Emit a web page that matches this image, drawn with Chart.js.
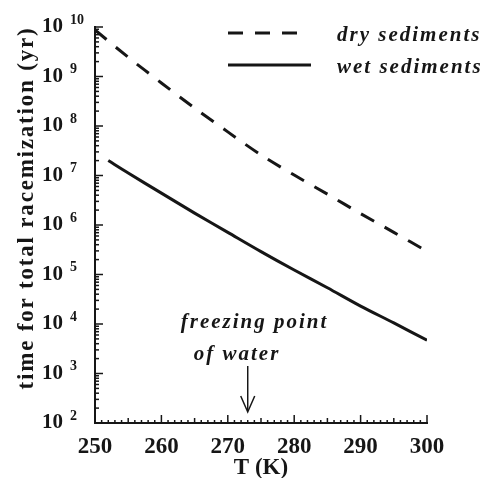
<!DOCTYPE html>
<html>
<head>
<meta charset="utf-8">
<script src="https://cdn.jsdelivr.net/npm/chart.js@4"></script>
<style>
  html, body { margin: 0; padding: 0; background: #fff; }
  canvas { display: block; }
</style>
</head>
<body>
<canvas id="raceChart" width="491" height="478"></canvas>
<script>
const tempDry = [250, 255, 260, 265, 270, 275, 280, 285, 290, 295, 300];
const dryYears = [8.7e9, 2.45e9, 7.4e8, 2.3e8, 7.6e7, 2.6e7, 1.02e7, 4.2e6, 1.7e6, 7.1e5, 2.95e5];
const tempWet = [252, 255, 260, 265, 270, 275, 280, 285, 290, 295, 300];
const wetYears = [2.0e7, 1.12e7, 4.4e6, 1.74e6, 7.1e5, 2.9e5, 1.23e5, 5.4e4, 2.3e4, 1.05e4, 4.7e3];
const seriesNames = ["dry sediments", "wet sediments"];
const xTicks = [250, 260, 270, 280, 290, 300];
const yPowers = [1e2, 1e3, 1e4, 1e5, 1e6, 1e7, 1e8, 1e9, 1e10];
const freezingT = 273;
const noteLines = ["freezing point", "of water"];

const ink = "#161616";
const serif = "'Liberation Serif', 'DejaVu Serif', serif";

function toPoints(xs, ys) {
  return xs.map((t, i) => ({ x: t, y: ys[i] }));
}

function line(ctx, x1, y1, x2, y2) {
  ctx.beginPath();
  ctx.moveTo(x1, y1);
  ctx.lineTo(x2, y2);
  ctx.stroke();
}

// inward tick marks, exponents, legend, note and y title
const decorations = {
  id: "decorations",
  afterDraw(chart) {
    const { ctx, chartArea, scales: { x, y } } = chart;
    ctx.save();
    ctx.strokeStyle = ink;
    ctx.fillStyle = ink;
    ctx.lineWidth = 1.5;

    yPowers.forEach((p, i) => {
      for (let m = 1; m <= 9; m++) {
        if (i === yPowers.length - 1 && m > 1) break;
        const py = y.getPixelForValue(p * m);
        line(ctx, chartArea.left, py, chartArea.left + (m === 1 ? 8 : 4), py);
      }
    });
    for (let t = x.min; t <= x.max; t++) {
      const px = x.getPixelForValue(t);
      const len = t % 10 === 0 ? 8 : (t % 5 === 0 ? 5 : 3);
      line(ctx, px, chartArea.bottom, px, chartArea.bottom - len);
    }

    // exponents next to the "10" tick labels
    ctx.font = "bold 14px " + serif;
    ctx.textAlign = "left";
    ctx.textBaseline = "middle";
    yPowers.forEach((p) => {
      const py = y.getPixelForValue(p);
      ctx.fillText(String(Math.round(Math.log10(p))), 70, py - 7);
    });

    // legend
    ctx.font = "italic bold 21px " + serif;
    ctx.letterSpacing = "2px";
    chart.data.datasets.forEach((ds, i) => {
      const ly = chartArea.top + 6 + i * 32;
      ctx.lineWidth = 3;
      ctx.setLineDash(ds.borderDash || []);
      line(ctx, 228, ly, i === 0 ? 302 : 311, ly);
      ctx.setLineDash([]);
      ctx.fillText(ds.label, 337, ly + 3);
    });

    // freezing point note
    const ax = x.getPixelForValue(freezingT);
    ctx.fillText(noteLines[0], ax - 67, 323);
    ctx.fillText(noteLines[1], ax - 54, 355);
    ctx.letterSpacing = "0px";
    ctx.lineWidth = 1.5;
    line(ctx, ax, 366, ax, 411);
    ctx.beginPath();
    ctx.moveTo(ax - 7, 396);
    ctx.lineTo(ax, 412);
    ctx.lineTo(ax + 7, 396);
    ctx.stroke();

    // y axis title
    ctx.font = "bold 23px " + serif;
    ctx.letterSpacing = "1.8px";
    ctx.textAlign = "center";
    ctx.translate(27, 208);
    ctx.rotate(-Math.PI / 2);
    ctx.fillText("time for total racemization (yr)", 0, 0);
    ctx.restore();
  }
};

new Chart(document.getElementById("raceChart"), {
  type: "line",
  data: {
    datasets: [
      {
        label: seriesNames[0],
        data: toPoints(tempDry, dryYears),
        borderColor: ink,
        borderWidth: 3,
        borderDash: [15, 12],
        pointRadius: 0,
        tension: 0.3,
      },
      {
        label: seriesNames[1],
        data: toPoints(tempWet, wetYears),
        borderColor: ink,
        borderWidth: 3,
        pointRadius: 0,
        tension: 0.3,
      },
    ],
  },
  options: {
    responsive: false,
    animation: false,
    layout: { padding: { top: 27, right: 64, left: 0, bottom: 0 } },
    plugins: {
      legend: { display: false },
      tooltip: { enabled: false },
    },
    scales: {
      x: {
        type: "linear",
        min: 250,
        max: 300,
        afterBuildTicks: (s) => { s.ticks = xTicks.map((v) => ({ value: v })); },
        afterFit: (s) => { s.height = 55; s.paddingLeft = 0; s.paddingRight = 0; },
        grid: { display: false },
        border: { display: true, color: ink, width: 2 },
        ticks: {
          color: ink,
          padding: 2,
          font: { family: serif, size: 23, weight: "bold" },
        },
        title: {
          display: true,
          text: "T (K)",
          color: ink,
          padding: 0,
          font: { family: serif, size: 23, weight: "bold", lineHeight: 0.9 },
        },
      },
      y: {
        type: "logarithmic",
        min: 1e2,
        max: 1e10,
        afterBuildTicks: (s) => { s.ticks = yPowers.map((v) => ({ value: v })); },
        afterFit: (s) => { s.width = 95; s.paddingTop = 0; s.paddingBottom = 0; },
        grid: { display: false },
        border: { display: true, color: ink, width: 2 },
        ticks: {
          color: ink,
          padding: 24,
          autoSkip: false,
          font: { family: serif, size: 21, weight: "bold" },
          callback: () => "10",
        },
      },
    },
  },
  plugins: [decorations],
});
</script>
</body>
</html>
